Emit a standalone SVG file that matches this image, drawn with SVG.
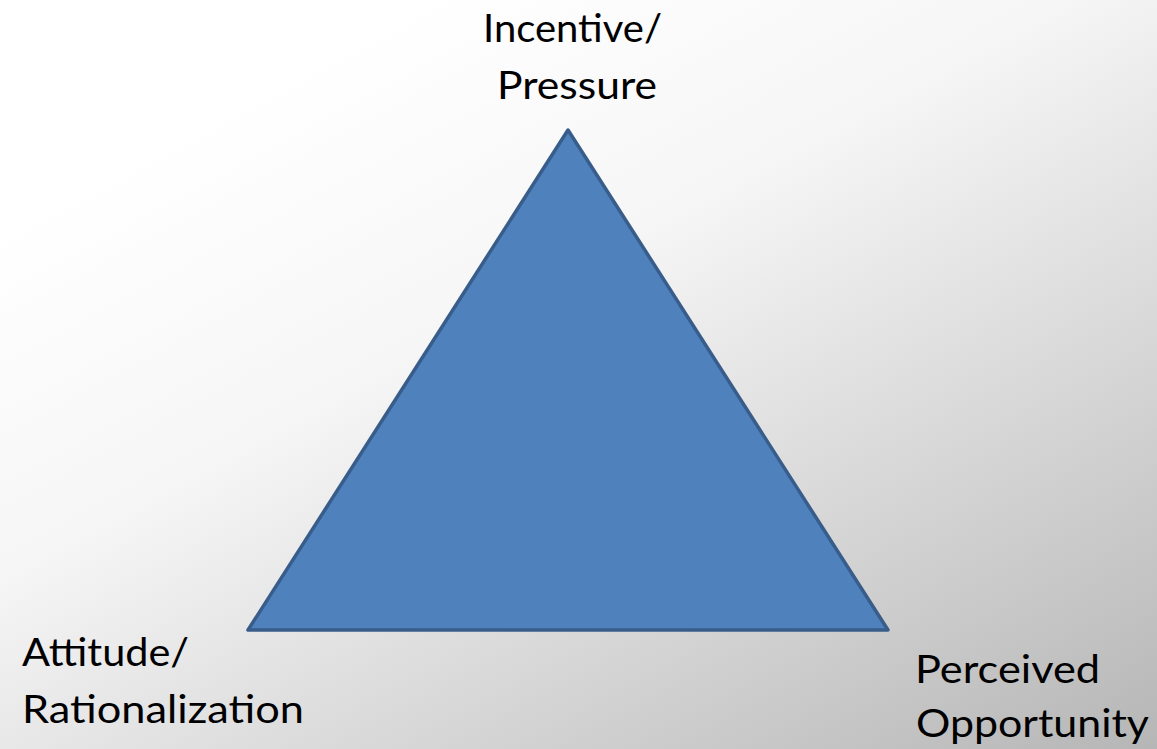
<svg xmlns="http://www.w3.org/2000/svg" width="1157" height="749" viewBox="0 0 1157 749">
  <style>
    .label { font-family: Lato, "Open Sans", "Liberation Sans", sans-serif; font-size: 39px; fill: #000; }
  </style>
  <defs>
    <linearGradient id="bg" x1="0.25" y1="0.1" x2="1" y2="1">
      <stop offset="0" stop-color="#ffffff"/>
      <stop offset="0.3" stop-color="#f6f6f6"/>
      <stop offset="1" stop-color="#b6b6b6"/>
    </linearGradient>
  </defs>
  <rect width="1157" height="749" fill="url(#bg)"/>

  <g id="connectors"></g>

  <g id="triangle">
    <polygon points="568,130 248,630 888,630" fill="#4f81bd" stroke="#385d8a" stroke-width="3.5" stroke-linejoin="round"/>
  </g>

  <g id="incentive">
    <text class="label" x="483" y="42" textLength="179" lengthAdjust="spacingAndGlyphs">Incentive/</text>
    <text class="label" x="497" y="99" textLength="160" lengthAdjust="spacingAndGlyphs">Pressure</text>
  </g>

  <g id="attitude">
    <text class="label" x="22" y="666" textLength="167" lengthAdjust="spacingAndGlyphs">Attitude/</text>
    <text class="label" x="22" y="723" textLength="282" lengthAdjust="spacingAndGlyphs">Rationalization</text>
  </g>

  <g id="opportunity">
    <text class="label" x="915" y="683" textLength="185" lengthAdjust="spacingAndGlyphs">Perceived</text>
    <text class="label" x="916" y="737" textLength="233" lengthAdjust="spacingAndGlyphs">Opportunity</text>
  </g>
</svg>
